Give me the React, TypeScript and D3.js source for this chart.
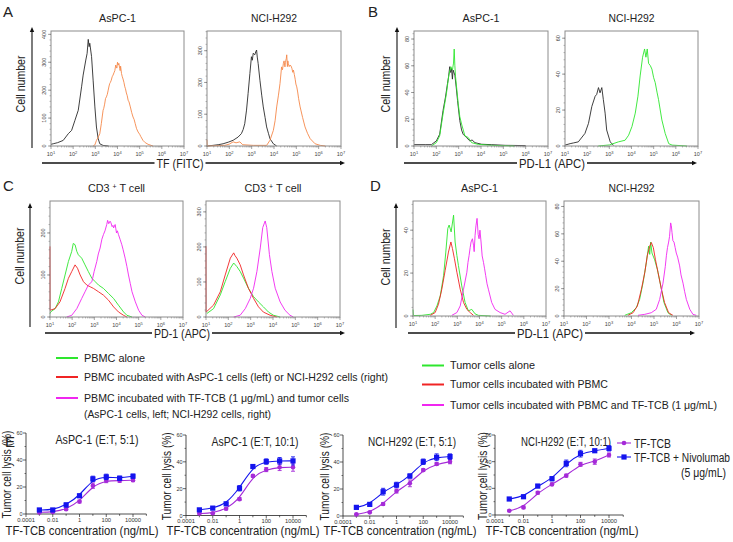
import React from 'react';
import * as d3 from 'd3';

const FONT = "'Liberation Sans', Arial, sans-serif";

// ---- flow histograms: [log10 fluorescence, cell count] ----
const aAspcIso = [[1.0,6],[1.1,8],[1.3,12],[1.55,20],[1.78,44],[1.93,56],[2.08,92],[2.23,128],[2.38,212],[2.45,254],[2.57,308],[2.63,332],[2.68,382],[2.72,356],[2.75,368],[2.83,320],[2.9,236],[2.98,140],[3.05,68],[3.13,26],[3.2,8],[3.35,2],[3.6,0]];
const aAspcTF = [[2.9,0],[2.98,4],[3.05,20],[3.12,30],[3.2,44],[3.27,80],[3.35,128],[3.38,135],[3.42,150],[3.46,170],[3.5,176],[3.54,185],[3.58,200],[3.62,215],[3.65,224],[3.68,228],[3.72,236],[3.76,248],[3.8,254],[3.84,262],[3.88,270],[3.92,290],[3.95,284],[3.97,279],[4.0,300],[4.03,290],[4.06,296],[4.1,278],[4.12,270],[4.14,286],[4.18,260],[4.21,250],[4.25,240],[4.29,228],[4.33,212],[4.36,205],[4.4,190],[4.44,180],[4.48,164],[4.52,158],[4.58,140],[4.64,120],[4.7,104],[4.75,95],[4.8,80],[4.86,62],[4.93,50],[5.0,42],[5.05,34],[5.15,20],[5.25,12],[5.38,6],[5.6,0]];
const aH292Iso = [[1.0,0],[1.27,2],[1.5,4],[1.72,7],[1.95,12],[2.17,18],[2.39,28],[2.54,39],[2.62,52],[2.69,70],[2.77,113],[2.84,165],[2.92,228],[2.99,281],[3.03,270],[3.07,292],[3.14,287],[3.18,296],[3.22,302],[3.25,280],[3.29,260],[3.37,207],[3.45,160],[3.52,123],[3.6,90],[3.67,60],[3.75,40],[3.82,23],[3.97,7],[4.12,0]];
const aH292TF = [[1.0,20],[1.01,0],[1.8,2],[2.0,6],[2.17,13],[2.3,10],[2.47,13],[2.6,4],[3.07,2],[3.67,2],[3.82,18],[3.97,49],[4.05,80],[4.12,123],[4.2,160],[4.27,197],[4.34,249],[4.38,240],[4.42,260],[4.45,268],[4.49,249],[4.51,262],[4.53,270],[4.55,275],[4.57,287],[4.6,250],[4.62,268],[4.64,260],[4.68,250],[4.72,255],[4.76,252],[4.8,245],[4.84,232],[4.87,239],[4.91,225],[4.95,210],[4.98,195],[5.02,186],[5.06,170],[5.1,150],[5.17,123],[5.28,90],[5.39,60],[5.5,40],[5.62,23],[5.84,7],[6.07,2],[6.3,0]];

const bAspcIso = [[1.0,1],[1.5,1],[1.78,1],[2.0,3.8],[2.15,8.8],[2.3,26.5],[2.41,36.6],[2.5,46.7],[2.55,52],[2.6,59.3],[2.64,55],[2.68,58],[2.72,50],[2.75,56.8],[2.83,53],[2.89,44],[2.95,34],[3.05,19],[3.13,12],[3.2,8.8],[3.35,6.3],[3.5,3.8],[3.6,4.5],[3.73,2.5],[4.03,1.3],[4.48,1],[5.08,0.5],[6,0.3]];
const bAspcPDL1 = [[1.78,0],[2.0,2.5],[2.15,7.6],[2.3,24],[2.45,39],[2.56,53],[2.65,59.3],[2.72,56.8],[2.77,62],[2.8,72.5],[2.83,60],[2.86,51.8],[2.98,31.6],[3.05,22],[3.13,16.4],[3.28,7.6],[3.43,6.3],[3.58,2.5],[3.88,1.2],[4.48,0.5],[5.5,0]];
const bH292Iso = [[1.0,0.5],[1.23,1.3],[1.38,1.7],[1.6,2.3],[1.9,7],[2.06,12.6],[2.21,22],[2.36,27.7],[2.43,28.7],[2.51,32.5],[2.58,29.6],[2.66,32.5],[2.73,25.8],[2.81,18.3],[2.88,8.9],[3.04,2.3],[3.19,0.3]];
const bH292PDL1 = [[2.5,0],[3.0,0.6],[3.41,2.3],[3.71,3.2],[3.87,6],[4.02,10.8],[4.17,18.3],[4.29,27.7],[4.39,39],[4.5,49.4],[4.59,54],[4.65,49.4],[4.71,54],[4.77,46],[4.85,44.7],[4.92,42.8],[5.0,38],[5.07,35.3],[5.15,30],[5.22,25.8],[5.37,14.5],[5.52,7],[5.68,1.3],[5.83,0.5],[6.5,0]];

const cAspcAlone = [[1.0,8],[1.03,12],[1.23,20],[1.38,36],[1.53,68],[1.68,100],[1.83,132],[1.98,156],[2.05,175],[2.13,172],[2.21,156],[2.28,148],[2.43,140],[2.58,124],[2.73,108],[2.89,92],[3.04,84],[3.19,76],[3.41,68],[3.64,56],[3.87,44],[4.09,28],[4.32,12],[4.47,4],[4.7,0]];
const cAspcTumor = [[1.0,168],[1.005,16],[1.23,20],[1.45,36],[1.68,68],[1.83,92],[1.98,108],[2.13,124],[2.24,116],[2.36,100],[2.51,84],[2.66,76],[2.81,72],[2.96,68],[3.19,60],[3.41,52],[3.64,40],[3.87,24],[4.09,12],[4.32,4],[4.47,0]];
const cAspcTCB = [[1.75,0],[1.98,4],[2.21,20],[2.43,44],[2.58,60],[2.73,76],[2.89,84],[2.99,108],[3.11,132],[3.18,150],[3.26,164],[3.34,185],[3.41,196],[3.48,205],[3.56,220],[3.6,230],[3.65,222],[3.71,228],[3.75,224],[3.8,215],[3.84,218],[3.87,212],[3.94,220],[3.97,210],[4.0,200],[4.04,205],[4.09,196],[4.16,185],[4.24,172],[4.3,160],[4.39,140],[4.47,120],[4.54,100],[4.62,80],[4.7,60],[4.85,36],[5.0,16],[5.15,4],[5.3,0]];
const cH292Alone = [[1.04,10],[1.34,24],[1.64,63],[1.86,101],[2.09,139],[2.24,154],[2.38,144],[2.53,130],[2.68,111],[2.9,82],[3.13,58],[3.35,43],[3.57,29],[3.8,14],[4.02,5],[4.32,0]];
const cH292Tumor = [[1.0,202],[1.005,14],[1.34,34],[1.64,72],[1.86,120],[2.09,168],[2.24,183],[2.3,175],[2.38,168],[2.53,149],[2.68,120],[2.9,82],[3.13,53],[3.35,29],[3.57,14],[3.87,5],[4.17,0]];
const cH292TCB = [[2.24,0],[2.53,5],[2.76,24],[2.98,53],[3.13,82],[3.28,130],[3.43,197],[3.54,255],[3.65,274],[3.72,255],[3.84,178],[3.95,130],[4.1,82],[4.32,43],[4.54,19],[4.76,5],[4.91,0]];

const dAspcAlone = [[1.0,3],[1.02,0.2],[1.4,0.3],[1.78,0.8],[1.93,1.6],[2.08,4.7],[2.23,9.4],[2.38,18.8],[2.48,29.8],[2.57,40.8],[2.63,42.4],[2.72,39.2],[2.83,47],[2.9,34.5],[2.98,28.2],[3.05,23.5],[3.2,14],[3.35,6.3],[3.5,2.4],[3.65,3.1],[3.8,1],[3.95,0.3],[4.5,0]];
const dAspcPBMC = [[1.78,0.3],[2.0,1.6],[2.15,5.5],[2.3,12.5],[2.45,21.2],[2.6,29.8],[2.71,34.5],[2.78,31.4],[2.87,26.7],[2.98,20.4],[3.13,12.5],[3.28,6.3],[3.43,3.1],[3.58,1.6],[3.73,0.3]];
const dAspcTCB = [[2.75,0.3],[2.98,1.6],[3.13,4.7],[3.28,12.5],[3.43,20.4],[3.48,25],[3.53,28.2],[3.58,32],[3.62,34.5],[3.68,36],[3.73,33],[3.76,30],[3.8,37.6],[3.84,42],[3.89,45.5],[3.94,38],[3.98,36],[4.02,40],[4.07,34.5],[4.12,28],[4.18,25],[4.23,22],[4.28,18.8],[4.34,15],[4.4,12.5],[4.55,6.3],[4.7,3.1],[4.93,1.6],[5.15,0.8],[5.38,2.4],[5.53,0.3]];
const dH292Alone = [[3.7,0.5],[3.99,2.4],[4.21,6],[4.36,12],[4.51,24],[4.66,39],[4.76,51],[4.81,45],[4.85,54],[4.91,46],[5.03,41],[5.15,34],[5.3,22],[5.44,10],[5.62,2.4],[5.77,0.5]];
const dH292PBMC = [[3.84,0.5],[4.07,2.4],[4.26,7.3],[4.44,19.5],[4.59,31.7],[4.7,44],[4.81,51],[4.88,53.7],[4.97,50],[5.06,41.5],[5.18,31.7],[5.33,19.5],[5.47,9.8],[5.65,2.4],[5.84,0.5]];
const dH292TCB = [[4.29,0.5],[4.59,1.2],[4.88,2.4],[5.1,4.9],[5.25,12],[5.4,24],[5.5,36],[5.55,44],[5.6,50],[5.65,54],[5.69,58],[5.74,68],[5.77,66],[5.8,61],[5.84,55],[5.89,54],[5.94,50],[5.99,46],[6.05,43],[6.14,36.6],[6.2,30],[6.29,24],[6.36,18],[6.44,12],[6.59,4.9],[6.73,1.2],[6.88,0.5]];

// ---- cytotoxicity (E) ----
const conc = [0.001, 0.01, 0.1, 1, 10, 100, 1000, 10000];
const e1Tcb = [1.2, 1.5, 3.5, 9.2, 21, 24.7, 24.7, 25];
const e1TcbErr = [0.5, 0.5, 0.8, 1, 2, 1.5, 1.2, 1];
const e1Nivo = [3, 3, 6.7, 13.5, 26, 27.5, 26.5, 28];
const e1NivoErr = [1, 0.8, 1.5, 1.2, 2, 2, 1.5, 1.5];
const e2Tcb = [1.5, 1.7, 5, 12.2, 29.5, 34.2, 36, 36];
const e2TcbErr = [0.5, 0.5, 0.8, 1, 1, 1.5, 2.5, 3];
const e2Nivo = [4.2, 5.5, 8.7, 20.3, 36.5, 40.2, 40.7, 40.7];
const e2NivoErr = [1, 0.8, 1, 2, 1.2, 2, 2.5, 3];
const e3Tcb = [1.2, 2.7, 8.9, 18.5, 24.2, 34, 38.5, 40.2];
const e3TcbErr = [0.5, 0.5, 1, 1.5, 2.5, 1, 1, 1.5];
const e3Nivo = [6.4, 8.6, 18, 23, 29.6, 40.2, 43.5, 44];
const e3NivoErr = [0.8, 1, 2.5, 2, 1.5, 2, 2.5, 2];
const e4Tcb = [3.2, 5.7, 16.7, 23, 29.5, 38, 40, 45];
const e4TcbErr = [0.5, 1, 1, 1, 1, 1.5, 2, 1.5];
const e4Nivo = [12, 13.7, 21.7, 27.2, 38.7, 46, 48.2, 50];
const e4NivoErr = [0.8, 1, 1.2, 1.5, 2.5, 2.5, 1, 2];

const BLACK = '#2a2a2a';
const ORANGE = '#f5884a';
const GREEN = '#2ee62e';
const RED = '#f02424';
const MAGENTA = '#f026f0';
const BLUE = '#1414ee';
const PURPLE = '#a52ad8';

type Pt = number[];

function Sup10({ x, y, n }: { x: number; y: number; n: number }) {
  return (
    <text x={x} y={y} fontSize={5.5} textAnchor="middle" fill="#444">
      10<tspan dy={-2.5} fontSize={4}>{n}</tspan>
    </text>
  );
}

function HistPanel(p: {
  x0: number; x1: number; y0: number; y1: number; yMax: number; yTicks: number[];
  title: React.ReactNode; titleLen: number; curves: { color: string; data: Pt[] }[];
}) {
  const x = d3.scaleLinear().domain([1, 7]).range([p.x0, p.x1]);
  const y = d3.scaleLinear().domain([0, p.yMax]).range([p.y1, p.y0]);
  const line = d3.line<Pt>().x(d => x(d[0])).y(d => y(Math.min(d[1], p.yMax)));
  const step = p.yTicks[1] - p.yTicks[0];
  const minorY = d3.range(0, p.yMax, step / 5);
  const minorX: number[] = [];
  for (let dd = 1; dd < 7; dd++) for (let k = 2; k < 10; k++) minorX.push(dd + Math.log10(k));
  return (
    <g>
      <text x={(p.x0 + p.x1) / 2} y={p.y0 - 9} fontSize={11} textAnchor="middle" fill="#222"
        textLength={p.titleLen} lengthAdjust="spacingAndGlyphs">{p.title}</text>
      {p.curves.map((c, i) => (
        <path key={i} d={line(c.data) || ''} fill="none" stroke={c.color} strokeWidth={0.9} />
      ))}
      <rect x={p.x0} y={p.y0} width={p.x1 - p.x0} height={p.y1 - p.y0} fill="none" stroke="#8c8c8c" strokeWidth={1} />
      {minorY.map((t, i) => (
        <line key={'my' + i} x1={p.x0 - 1.5} x2={p.x0} y1={y(t)} y2={y(t)} stroke="#777" strokeWidth={0.5} />
      ))}
      {p.yTicks.map(t => (
        <g key={'y' + t}>
          <line x1={p.x0 - 3} x2={p.x0} y1={y(t)} y2={y(t)} stroke="#666" strokeWidth={0.6} />
          <text transform={`translate(${p.x0 - 5},${y(t)}) rotate(-90)`} fontSize={5.5} textAnchor="middle" fill="#444">{t}</text>
        </g>
      ))}
      {minorX.map((t, i) => (
        <line key={'mx' + i} x1={x(t)} x2={x(t)} y1={p.y1} y2={p.y1 + 1.5} stroke="#777" strokeWidth={0.5} />
      ))}
      {d3.range(1, 8).map(n => (
        <g key={'x' + n}>
          <line x1={x(n)} x2={x(n)} y1={p.y1} y2={p.y1 + 3} stroke="#666" strokeWidth={0.6} />
          <Sup10 x={x(n)} y={p.y1 + 10} n={n} />
        </g>
      ))}
    </g>
  );
}

function VArrow({ x, yTop, yBot, label, labelX, labelY, len }: { x: number; yTop: number; yBot: number; label: string; labelX: number; labelY: number; len: number }) {
  return (
    <g>
      <line x1={x} x2={x} y1={yBot} y2={yTop + 3} stroke="#111" strokeWidth={1.1} />
      <path d={`M${x - 2.2},${yTop + 5} L${x},${yTop} L${x + 2.2},${yTop + 5} Z`} fill="#111" />
      <text transform={`translate(${labelX},${labelY}) rotate(-90)`} fontSize={13} textAnchor="middle" fill="#222"
        textLength={len} lengthAdjust="spacingAndGlyphs">{label}</text>
    </g>
  );
}

function HArrow({ y, x0, x1, label, cx, len }: { y: number; x0: number; x1: number; label: string; cx: number; len: number }) {
  return (
    <g>
      <line x1={x0} x2={cx - len / 2 - 2} y1={y} y2={y} stroke="#111" strokeWidth={1.3} />
      <line x1={cx + len / 2 + 2} x2={x1 - 3} y1={y} y2={y} stroke="#111" strokeWidth={1.3} />
      <path d={`M${x1 - 5},${y - 2.2} L${x1},${y} L${x1 - 5},${y + 2.2} Z`} fill="#111" />
      <text x={cx} y={y + 4.5} fontSize={13} textAnchor="middle" fill="#222" textLength={len} lengthAdjust="spacingAndGlyphs">{label}</text>
    </g>
  );
}

function Legend({ x, ys, items, lens, extra }: { x: number; ys: number[]; items: { color: string; text: string }[]; lens: number[]; extra?: { text: string; len: number; y: number } }) {
  return (
    <g>
      {items.map((it, i) => (
        <g key={i}>
          <line x1={x} x2={x + 22} y1={ys[i]} y2={ys[i]} stroke={it.color} strokeWidth={2} />
          <text x={x + 28} y={ys[i] + 3.8} fontSize={11} fill="#222" textLength={lens[i]} lengthAdjust="spacingAndGlyphs">{it.text}</text>
        </g>
      ))}
      {extra && (
        <text x={x + 28} y={extra.y + 3.8} fontSize={11} fill="#222" textLength={extra.len} lengthAdjust="spacingAndGlyphs">{extra.text}</text>
      )}
    </g>
  );
}

function Square({ cx, cy, c }: { cx: number; cy: number; c: string }) {
  return <rect x={cx - 2.6} y={cy - 2.6} width={5.2} height={5.2} fill={c} />;
}
function Dot({ cx, cy, c }: { cx: number; cy: number; c: string }) {
  return <circle cx={cx} cy={cy} r={2.3} fill={c} />;
}

function EPlot(p: {
  ax: number; a4: number; yb: number; yt: number; title: string; titleX: number; titleLen: number;
  ylabX: number; xlabX: number; tcb: number[]; tcbErr: number[]; nivo: number[]; nivoErr: number[];
}) {
  const x = d3.scaleLog().domain([1e-4, 1e4]).range([p.ax, p.a4]);
  const y = d3.scaleLinear().domain([0, 60]).range([p.yb, p.yt]);
  const line = d3.line<number>().x((_, i) => x(conc[i])).y(d => y(d)).curve(d3.curveBasis);
  const xEnd = x(1e5);
  const series = [
    { v: p.tcb, e: p.tcbErr, c: PURPLE, sq: false },
    { v: p.nivo, e: p.nivoErr, c: BLUE, sq: true },
  ];
  return (
    <g>
      <text x={p.titleX} y={p.yt + 11} fontSize={13} textAnchor="middle" fill="#222" textLength={p.titleLen} lengthAdjust="spacingAndGlyphs">{p.title}</text>
      <text transform={`translate(${p.ylabX},${(p.yb + p.yt) / 2 + 1}) rotate(-90)`} fontSize={13} textAnchor="middle" fill="#222"
        textLength={88} lengthAdjust="spacingAndGlyphs">Tumor cell lysis (%)</text>
      <text x={p.xlabX} y={535} fontSize={13} textAnchor="middle" fill="#222" textLength={153} lengthAdjust="spacingAndGlyphs">TF-TCB concentration (ng/mL)</text>
      <line x1={p.ax} x2={p.ax} y1={p.yb} y2={p.yt} stroke="#222" strokeWidth={0.8} />
      <line x1={p.ax} x2={xEnd} y1={p.yb} y2={p.yb} stroke="#222" strokeWidth={0.8} />
      {[0, 20, 40, 60].map(t => (
        <g key={t}>
          <line x1={p.ax - 3} x2={p.ax} y1={y(t)} y2={y(t)} stroke="#222" strokeWidth={0.7} />
          <text x={p.ax - 3.5} y={y(t) + 2} fontSize={5.5} textAnchor="end" fill="#333">{t}</text>
        </g>
      ))}
      {[10, 30, 50].map(t => (
        <line key={t} x1={p.ax - 1.5} x2={p.ax} y1={y(t)} y2={y(t)} stroke="#222" strokeWidth={0.6} />
      ))}
      {[1e-4, 1e-3, 1e-2, 1e-1, 1, 10, 100, 1000, 1e4, 1e5].map((t, i) => (
        <line key={i} x1={x(t)} x2={x(t)} y1={p.yb} y2={p.yb + (i % 2 === 0 ? 3 : 1.8)} stroke="#222" strokeWidth={0.7} />
      ))}
      {[1e-4, 1e-2, 1, 100, 1e4].map(t => (
        <text key={t} x={x(t)} y={p.yb + 7.5} fontSize={5.8} textAnchor="middle" fill="#333">
          {t < 0.01 ? '0.0001' : t < 1 ? '0.01' : String(t)}
        </text>
      ))}
      {series.map((s, si) => (
        <g key={si}>
          <path d={line(s.v) || ''} fill="none" stroke={s.c} strokeWidth={1.1} />
          {s.v.map((v, i) => (
            <g key={i}>
              <line x1={x(conc[i])} x2={x(conc[i])} y1={y(v - s.e[i])} y2={y(v + s.e[i])} stroke={s.c} strokeWidth={0.9} />
              <line x1={x(conc[i]) - 2} x2={x(conc[i]) + 2} y1={y(v + s.e[i])} y2={y(v + s.e[i])} stroke={s.c} strokeWidth={0.9} />
              <line x1={x(conc[i]) - 2} x2={x(conc[i]) + 2} y1={y(v - s.e[i])} y2={y(v - s.e[i])} stroke={s.c} strokeWidth={0.9} />
              {s.sq ? <Square cx={x(conc[i])} cy={y(v)} c={s.c} /> : <Dot cx={x(conc[i])} cy={y(v)} c={s.c} />}
            </g>
          ))}
        </g>
      ))}
    </g>
  );
}

const CD3 = (<>CD3 <tspan dy={-3} fontSize={7}>+</tspan><tspan dy={3}> T cell</tspan></>);

export default function App() {
  return (
    <svg width={733} height={542} style={{ position: 'absolute', left: 0, top: 0, background: '#fff' }} fontFamily={FONT}>
      {/* panel letters */}
      <text x={3} y={17} fontSize={15} fill="#222">A</text>
      <text x={368} y={17} fontSize={15} fill="#222">B</text>
      <text x={3} y={191} fontSize={15} fill="#222">C</text>
      <text x={370} y={191} fontSize={15} fill="#222">D</text>
      <text x={5} y={447} fontSize={15} fill="#222">E</text>

      {/* A */}
      <VArrow x={32} yTop={27} yBot={148} label="Cell number" labelX={25} labelY={84} len={57} />
      <HistPanel x0={51} x1={184} y0={31} y1={146} yMax={412} yTicks={[0, 100, 200, 300, 400]} title="AsPC-1" titleLen={37}
        curves={[{ color: BLACK, data: aAspcIso }, { color: ORANGE, data: aAspcTF }]} />
      <HistPanel x0={207} x1={341} y0={31} y1={146} yMax={362} yTicks={[0, 100, 200, 300]} title="NCI-H292" titleLen={46}
        curves={[{ color: BLACK, data: aH292Iso }, { color: ORANGE, data: aH292TF }]} />
      <HArrow y={163} x0={42} x1={345} label="TF (FITC)" cx={180} len={47} />

      {/* B */}
      <VArrow x={397} yTop={27} yBot={148} label="Cell number" labelX={390} labelY={84} len={57} />
      <HistPanel x0={414} x1={548} y0={31} y1={146} yMax={86} yTicks={[0, 20, 40, 60, 80]} title="AsPC-1" titleLen={37}
        curves={[{ color: BLACK, data: bAspcIso }, { color: GREEN, data: bAspcPDL1 }]} />
      <HistPanel x0={565} x1={698} y0={31} y1={146} yMax={64} yTicks={[0, 20, 40, 60]} title="NCI-H292" titleLen={46}
        curves={[{ color: BLACK, data: bH292Iso }, { color: GREEN, data: bH292PDL1 }]} />
      <HArrow y={163} x0={404} x1={697} label="PD-L1 (APC)" cx={552} len={66} />

      {/* C */}
      <VArrow x={30} yTop={203} yBot={327} label="Cell number" labelX={24} labelY={256} len={57} />
      <HistPanel x0={50} x1={183} y0={201} y1={317} yMax={276} yTicks={[0, 100, 200]} title={CD3} titleLen={57}
        curves={[{ color: GREEN, data: cAspcAlone }, { color: RED, data: cAspcTumor }, { color: MAGENTA, data: cAspcTCB }]} />
      <HistPanel x0={206} x1={340} y0={201} y1={317} yMax={331} yTicks={[0, 100, 200, 300]} title={CD3} titleLen={57}
        curves={[{ color: GREEN, data: cH292Alone }, { color: RED, data: cH292Tumor }, { color: MAGENTA, data: cH292TCB }]} />
      <HArrow y={333} x0={45} x1={345} label="PD-1 (APC)" cx={182} len={56} />

      {/* D */}
      <VArrow x={396} yTop={203} yBot={328} label="Cell number" labelX={390} labelY={257} len={57} />
      <HistPanel x0={413} x1={546} y0={201} y1={316} yMax={53.6} yTicks={[0, 20, 40]} title="AsPC-1" titleLen={37}
        curves={[{ color: GREEN, data: dAspcAlone }, { color: RED, data: dAspcPBMC }, { color: MAGENTA, data: dAspcTCB }]} />
      <HistPanel x0={564} x1={699} y0={201} y1={316} yMax={84} yTicks={[0, 20, 40, 60, 80]} title="NCI-H292" titleLen={46}
        curves={[{ color: GREEN, data: dH292Alone }, { color: RED, data: dH292PBMC }, { color: MAGENTA, data: dH292TCB }]} />
      <HArrow y={333} x0={408} x1={695} label="PD-L1 (APC)" cx={550} len={66} />

      {/* legends C / D */}
      <Legend x={56} ys={[358, 377, 398]}
        items={[
          { color: GREEN, text: 'PBMC alone' },
          { color: RED, text: 'PBMC incubated with AsPC-1 cells (left) or NCI-H292 cells (right)' },
          { color: MAGENTA, text: 'PBMC incubated with TF-TCB (1 μg/mL) and tumor cells' },
        ]}
        lens={[61, 304, 265]}
        extra={{ text: '(AsPC-1 cells, left; NCI-H292 cells, right)', len: 187, y: 414 }} />
      <Legend x={422} ys={[365.5, 384.5, 405]}
        items={[
          { color: GREEN, text: 'Tumor  cells alone' },
          { color: RED, text: 'Tumor cells incubated with PBMC' },
          { color: MAGENTA, text: 'Tumor cells incubated with PBMC and TF-TCB (1 μg/mL)' },
        ]}
        lens={[85, 158, 267]} />

      {/* E */}
      <EPlot ax={26} a4={133} yb={514} yt={433} title="AsPC-1 (E:T, 5:1)" titleX={97} titleLen={83} ylabX={11} xlabX={82}
        tcb={e1Tcb} tcbErr={e1TcbErr} nivo={e1Nivo} nivoErr={e1NivoErr} />
      <EPlot ax={186} a4={293} yb={515.5} yt={435} title="AsPC-1 (E:T, 10:1)" titleX={255} titleLen={87} ylabX={171} xlabX={243}
        tcb={e2Tcb} tcbErr={e2TcbErr} nivo={e2Nivo} nivoErr={e2NivoErr} />
      <EPlot ax={343} a4={450} yb={516} yt={435} title="NCI-H292 (E:T, 5:1)" titleX={412} titleLen={88} ylabX={329} xlabX={400}
        tcb={e3Tcb} tcbErr={e3TcbErr} nivo={e3Nivo} nivoErr={e3NivoErr} />
      <EPlot ax={495} a4={609} yb={515} yt={435} title="NCI-H292 (E:T, 10:1)" titleX={566} titleLen={90} ylabX={487} xlabX={562}
        tcb={e4Tcb} tcbErr={e4TcbErr} nivo={e4Nivo} nivoErr={e4NivoErr} />

      {/* E legend */}
      <g>
        <line x1={617} x2={631} y1={443} y2={443} stroke={PURPLE} strokeWidth={1.1} />
        <Dot cx={624} cy={443} c={PURPLE} />
        <text x={634} y={447.5} fontSize={12.5} fill="#222" textLength={37} lengthAdjust="spacingAndGlyphs">TF-TCB</text>
        <line x1={617} x2={631} y1={457} y2={457} stroke={BLUE} strokeWidth={1.1} />
        <Square cx={624} cy={457} c={BLUE} />
        <text x={634} y={461.5} fontSize={12.5} fill="#222" textLength={96} lengthAdjust="spacingAndGlyphs">TF-TCB + Nivolumab</text>
        <text x={681} y={476.5} fontSize={12.5} fill="#222" textLength={45} lengthAdjust="spacingAndGlyphs">(5 μg/mL)</text>
      </g>
    </svg>
  );
}
